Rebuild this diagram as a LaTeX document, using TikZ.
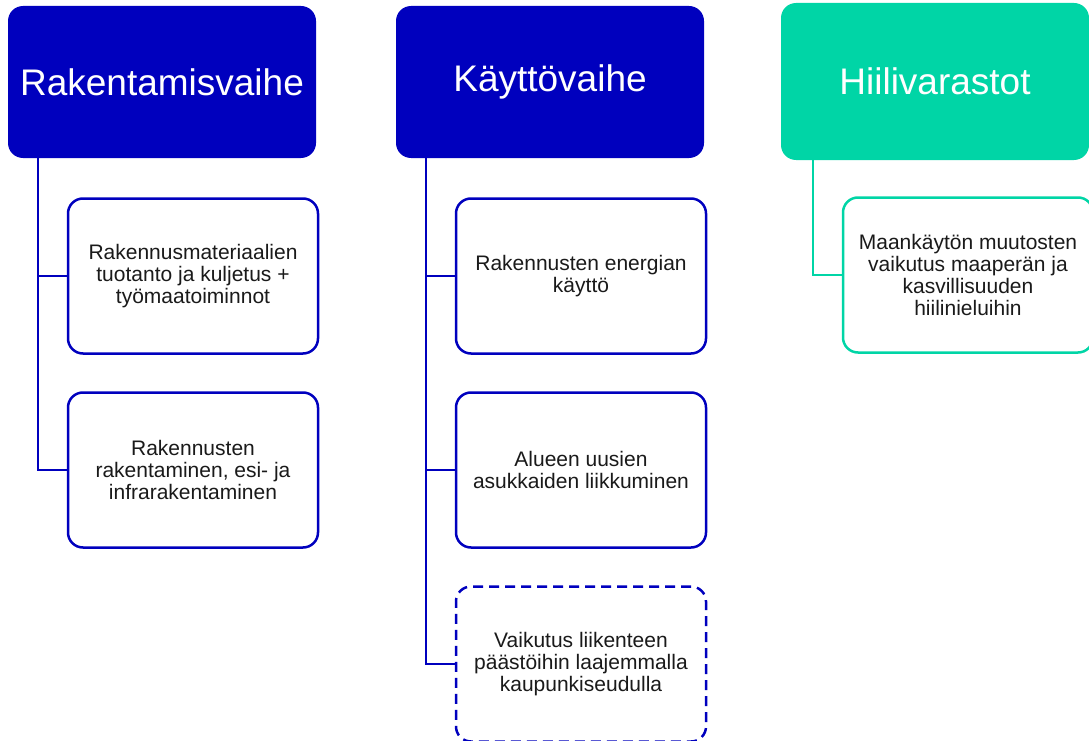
\documentclass[tikz,border=0pt]{standalone}
\usepackage{fontspec}
\setmainfont{Liberation Sans}
\usetikzlibrary{positioning}
\definecolor{phaseblue}{RGB}{0,0,190}
\definecolor{stockgreen}{RGB}{0,213,166}
\definecolor{itemtext}{RGB}{26,26,26}
\tikzstyle{phase} = [rectangle, rounded corners=15pt, minimum width=308pt, minimum height=152pt, text=white, font=\fontsize{37}{40}\selectfont]
\tikzstyle{item} = [draw, rectangle, rounded corners=15pt, line width=2.5pt, fill=white, minimum width=250pt, minimum height=155pt, align=center, text=itemtext, font=\fontsize{21}{22}\selectfont]
\tikzstyle{conn} = [draw, line width=2.5pt]

\begin{document}
\begin{tikzpicture}[x=1pt, y=-1pt, node distance=194pt]
        \useasboundingbox (0,0) rectangle (1089,741);
        % phases
        \node[phase, fill=phaseblue] (build) at (162,82) {Rakentamisvaihe};
        \node[phase, fill=phaseblue] (use) at (550,82) {Käyttövaihe};
        \node[phase, fill=stockgreen, minimum height=157pt] (stock) at (935,81.5) {Hiilivarastot};
        % items
        \node[item, draw=phaseblue, below of=build, xshift=31pt] (materials) {Rakennusmateriaalien\\tuotanto ja kuljetus +\\työmaatoiminnot};
        \node[item, draw=phaseblue, below of=materials] (construct) {Rakennusten\\rakentaminen, esi- ja\\infrarakentaminen};
        \node[item, draw=phaseblue, below of=use, xshift=31pt] (energy) {Rakennusten energian\\käyttö};
        \node[item, draw=phaseblue, below of=energy] (mobility) {Alueen uusien\\asukkaiden liikkuminen};
        \node[item, draw=phaseblue, dash pattern=on 10pt off 6pt, below of=mobility] (traffic) {Vaikutus liikenteen\\päästöihin laajemmalla\\kaupunkiseudulla};
        \node[item, draw=stockgreen, below of=stock, xshift=33pt, yshift=0.5pt] (landuse) {Maankäytön muutosten\\vaikutus maaperän ja\\kasvillisuuden\\hiilinieluihin};
        % connectors
        \path[conn, phaseblue] ([xshift=30pt]build.south west) |- (materials.west);
        \path[conn, phaseblue] ([xshift=30pt]build.south west) |- (construct.west);
        \path[conn, phaseblue] ([xshift=30pt]use.south west) |- (energy.west);
        \path[conn, phaseblue] ([xshift=30pt]use.south west) |- (mobility.west);
        \path[conn, phaseblue] ([xshift=30pt]use.south west) |- (traffic.west);
        \path[conn, stockgreen] ([xshift=32pt]stock.south west) |- (landuse.west);
    \end{tikzpicture}
\end{document}
